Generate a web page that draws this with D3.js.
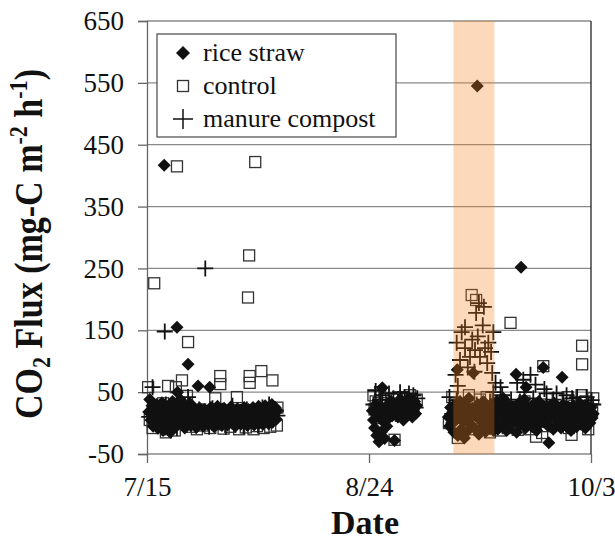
<html lang='eng'>
    <head>
        <script src="https://d3js.org/d3.v7.min.js" charset="utf-8"></script>
        <style>
          body { margin: 0; background: white; }
        </style>
    </head>
    <body>
        <script>
            // data: [days since 7/15, CO2 flux]
            var riceStraw = [
              [0.3,18],[0.5,38],[0.7,5],[0.9,28],[1.1,-5],[1.3,22],[1.5,10],[1.7,30],[1.9,-8],[2.1,15],
              [2.3,25],[2.5,2],[2.7,33],[2.9,-12],[3.1,417],[3.2,12],[3.4,20],[3.6,-3],[3.8,26],[4.0,8],
              [4.2,-15],[4.4,18],[4.6,35],[4.8,5],[5.0,22],[5.2,-6],[5.4,155],[5.5,50],[5.6,28],[5.8,12],
              [6.0,38],[6.2,0],[6.4,18],[6.6,30],[6.8,-8],[7.0,14],[7.2,24],[7.4,95],[7.5,6],[7.7,32],
              [7.9,-4],[8.1,17],[8.3,26],[8.5,3],[8.7,20],[8.9,-7],[9.2,60],[9.3,12],[9.5,24],[9.7,2],
              [9.9,15],[10.1,-5],[10.3,22],[10.5,8],[10.7,18],[10.9,-2],[11.3,58],[11.2,14],[11.5,25],[11.7,4],
              [11.9,16],[12.1,-6],[12.3,20],[12.5,9],[12.7,27],[12.9,0],[13.1,14],[13.3,22],[13.5,-4],[13.7,11],
              [13.9,24],[14.1,5],[14.3,17],[14.5,-3],[14.7,21],[14.9,8],[15.1,26],[15.3,0],[15.5,13],[15.7,19],
              [15.9,-5],[16.1,10],[16.3,23],[16.5,4],[16.7,15],[16.9,-2],[17.1,20],[17.3,8],[17.5,25],[17.7,1],
              [17.9,14],[18.1,-4],[18.3,22],[18.5,10],[18.7,17],[18.9,3],[19.1,25],[19.3,-3],[19.5,12],[19.7,20],
              [19.9,6],[20.1,27],[20.3,0],[20.5,15],[20.7,22],[20.9,-2],[21.1,10],[21.3,28],[21.5,5],[21.7,18],
              [21.9,-1],[22.1,24],[22.3,9],[22.5,30],[22.7,2],[22.9,16],[23.1,25],[23.3,6],[23.5,20],
              // 8/25 - 9/1
              [40.6,20],[40.8,5],[41.0,-8],[41.2,30],[41.4,-20],[41.6,12],[41.8,-30],[42.0,25],[42.2,-15],[42.4,57],
              [42.6,2],[42.8,-25],[43.0,15],[43.2,-5],[43.4,30],[43.6,8],[43.8,20],[44.0,35],[44.2,12],[44.4,25],
              [44.6,-28],[44.8,18],[45.0,30],[45.2,10],[45.4,22],[45.6,38],[45.8,15],[46.0,28],[46.2,5],[46.4,20],
              [46.6,35],[46.8,12],[47.0,25],[47.2,40],[47.4,18],[47.6,30],[47.8,10],[48.0,22],[48.2,35],[48.4,15],[48.6,28],
              // 9/7 - 10/3
              [54.3,10],[54.5,-5],[54.7,25],[54.9,0],[55.1,18],[55.3,-15],[55.5,30],[55.7,5],[55.9,86],[56.0,-20],
              [56.2,14],[56.4,35],[56.6,-10],[56.8,22],[57.0,2],[57.2,-24],[57.4,28],[57.6,8],[57.8,-12],[58.0,40],
              [58.2,16],[58.4,-3],[58.6,24],[58.8,81],[59.0,-8],[59.2,12],[59.5,545],[59.6,30],[59.8,-18],[60.0,5],
              [60.2,20],[60.4,-6],[60.6,35],[60.8,10],[61.0,-14],[61.2,25],[61.4,0],[61.6,15],[61.8,-9],[62.0,30],
              [62.2,8],[62.4,-12],[62.6,20],[62.8,2],[63.0,35],[63.2,-10],[63.4,15],[63.6,28],[63.8,-5],[64.0,12],
              [64.2,40],[64.4,0],[64.6,22],[64.8,-12],[65.0,30],[65.2,8],[65.4,18],[65.6,-3],[66.5,79],[66.0,25],
              [66.2,5],[68.3,58],[66.6,-15],[66.8,14],[67.0,32],[67.4,252],[67.2,-2],[67.6,20],[67.8,10],[68.0,38],
              [68.2,-8],[68.4,15],[68.6,26],[68.8,2],[71.4,90],[69.2,18],[69.4,-6],[69.6,30],[69.8,8],[70.0,22],
              [70.2,-12],[70.4,12],[70.6,35],[70.8,0],[71.0,18],[72.4,-32],[71.6,26],[71.8,5],[72.0,15],[74.8,74],
              [72.2,-4],[72.6,28],[72.8,10],[73.0,20],[73.2,-10],[73.4,32],[73.6,6],[73.8,16],[74.0,-2],[74.2,24],
              [74.4,12],[74.6,-8],[75.0,30],[75.2,4],[75.4,18],[75.6,-5],[75.8,26],[76.0,10],[76.2,20],[76.4,-12],
              [76.6,14],[76.8,28],[77.0,2],[77.2,18],[77.4,-6],[77.6,24],[77.8,8],[78.0,32],[78.2,-2],[78.4,16],
              [78.6,22],[78.8,5],[79.0,-8],[79.2,28],[79.4,12],[79.6,20],[79.8,0],[80.0,25],[80.2,8],[80.4,15]
            ]

            var control = [
              [1.3,226],[5.4,415],[19.5,422],[18.4,271],[18.2,203],[7.4,131],[0.2,58],[3.8,60],[5.2,58],[6.3,69],
              [13.2,76],[13.2,63],[18.5,76],[18.5,65],[20.6,84],[22.6,69],[12.3,40],[16.2,42],[2.9,32],[7.2,44],
              [3.4,-15],[0.5,5],[1.0,-8],[1.6,15],[2.2,-2],[2.8,20],[3.6,-10],[4.4,8],[5.0,-12],[5.8,18],
              [6.6,0],[7.8,-6],[8.4,12],[9.0,-10],[9.6,22],[10.2,-4],[10.8,10],[11.4,-8],[12.0,16],[12.6,-2],
              [13.8,-9],[14.4,8],[15.0,-6],[15.6,20],[16.6,-10],[17.2,4],[17.8,-7],[18.8,12],[19.2,-10],[19.8,-5],
              [20.4,15],[21.0,-8],[21.6,6],[22.2,-6],[22.8,18],[23.4,-4],[23.5,25],
              [40.8,45],[41.0,22],[41.2,35],[41.6,8],[42.0,50],[42.4,15],[43.0,40],[43.4,28],[44.0,20],[44.6,-27],
              [45.0,38],[45.6,25],[46.2,42],[46.8,30],[47.4,45],[48.0,20],[48.6,38],
              [58.5,207],[59.3,199],[55.0,42],[56.0,-24],[54.4,0],[55.5,30],[57.0,20],[58.0,45],[59.0,-10],[60.0,38],
              [60.5,15],[61.2,42],[62.0,5],[61.8,-15],[57.6,-5],[65.5,162],[78.4,125],[78.4,95],[71.4,92],[75.8,42],
              [78.3,45],[70.1,-22],[71.2,-16],[76.5,-19],[66.8,-11],[63.0,10],[64.0,30],[65.0,-8],[66.0,25],[67.0,5],
              [68.0,35],[69.0,-10],[70.0,18],[71.0,30],[72.0,-5],[73.0,22],[74.0,40],[75.0,10],[76.0,-8],[77.0,28],
              [78.0,0],[79.0,35],[79.5,-10],[80.2,20],[80.4,40],[62.8,30],[63.6,-12]
            ]

            var manureCompost = [
              [1.0,58],[3.2,148],[10.5,250],
              [0.4,10],[1.4,25],[2.0,-5],[2.6,15],[3.4,30],[4.0,2],[4.6,20],[5.4,-8],[6.0,12],[6.8,28],
              [7.4,42],[7.6,5],[8.2,18],[8.8,-4],[9.4,22],[10.0,8],[10.6,15],[11.2,-6],[11.8,24],[12.4,10],
              [13.0,2],[13.6,20],[14.2,-6],[14.8,14],[15.4,28],[16.0,4],[16.8,18],[17.4,-5],[18.0,22],[18.6,8],
              [19.4,16],[20.0,-3],[20.8,25],[21.4,10],[22.0,30],[22.6,4],[23.2,20],[23.5,12],
              [40.8,30],[41.2,52],[41.6,20],[42.0,38],[42.4,45],[42.8,10],[43.2,30],[43.6,48],[44.0,25],[44.4,40],
              [44.8,15],[45.2,35],[45.6,50],[46.0,28],[46.4,42],[46.8,20],[47.2,48],[47.6,32],[48.0,45],[48.4,25],[48.7,40],
              [59.8,194],[60.7,188],[59.3,178],[60.5,158],[57.3,155],[56.7,147],[62.4,147],[55.8,130],[57.3,121],[59.1,118],
              [60.9,121],[62.0,115],[58.2,107],[60.0,107],[56.4,102],[61.3,97],[55.6,78],[62.2,81],[59.0,83],[54.5,42],
              [55.8,37],[56.0,60],[57.8,90],[58.6,135],[59.6,140],[61.5,130],[55.0,15],[56.6,25],[58.0,5],[59.4,30],
              [60.6,12],[61.8,35],[62.4,50],
              [62.8,65],[63.7,58],[66.7,65],[69.1,78],[72.0,48],[73.8,48],[75.6,45],[77.5,42],[79.2,42],[80.1,37],
              [63.2,30],[64.0,45],[64.8,20],[65.6,38],[66.2,10],[67.2,35],[68.0,50],[68.6,22],[69.6,40],[70.2,15],
              [70.8,35],[71.6,55],[72.6,25],[73.2,38],[74.4,18],[75.0,32],[76.0,20],[76.6,40],[77.0,12],[78.0,30],
              [78.6,20],[79.6,28],[80.4,30],[67.8,70],[70.0,62]
            ]

            var yTicks = [-50, 50, 150, 250, 350, 450, 550, 650]
            var xTicks = [0, 40, 80]
            var xTickLabels = ["7/15", "8/24", "10/3"]
            var bandDays = [55.2, 62.6]
            var seriesNames = ["rice straw", "control", "manure compost"]

            var width = 615
            var height = 541
            var serif = "'Liberation Serif', 'Times New Roman', Times, serif"

            var svg = d3.select("body")
                        .append("svg")
                        .attr("width", width)
                        .attr("height", height)
                        .attr("font-family", serif)

            var x = d3.scaleLinear().domain([0, 80]).range([147, 591])
            var y = d3.scaleLinear().domain([-50, 650]).range([454, 21])

            // gridlines
            svg.selectAll(".grid")
               .data(yTicks)
               .enter().append("line")
               .attr("x1", x(0)).attr("x2", x(80))
               .attr("y1", function(d) { return y(d) })
               .attr("y2", function(d) { return y(d) })
               .attr("stroke", "#8a8a8a")
               .attr("stroke-width", 1.3)

            // y axis
            var yAxis = d3.axisLeft(y).tickValues(yTicks).tickSize(9).tickPadding(14)
              .tickFormat(function(d) { return String(d) })
            var gy = svg.append("g").attr("transform", "translate(" + x(0) + ",0)").call(yAxis)
            gy.attr("font-family", serif).attr("font-size", 27)
            gy.select(".domain").attr("stroke", "#666").attr("stroke-width", 1.3)
            gy.selectAll(".tick line").attr("stroke", "#666").attr("stroke-width", 1.3)
            gy.selectAll(".tick text").attr("fill", "#111")

            // x axis
            var xAxis = d3.axisBottom(x).tickValues(xTicks).tickSize(9).tickPadding(14)
              .tickFormat(function(d, i) { return xTickLabels[i] })
            var gx = svg.append("g").attr("transform", "translate(0," + y(-50) + ")").call(xAxis)
            gx.attr("font-family", serif).attr("font-size", 27)
            gx.select(".domain").remove()
            gx.selectAll(".tick line").attr("stroke", "#666").attr("stroke-width", 1.3)
            gx.selectAll(".tick text").attr("fill", "#111")

            // right border
            svg.append("line")
               .attr("x1", x(80)).attr("x2", x(80))
               .attr("y1", y(650)).attr("y2", y(-50))
               .attr("stroke", "#222").attr("stroke-width", 1.3)

            var diamond = "M0,-6.5L6.5,0L0,6.5L-6.5,0Z"
            var plus = "M-8,0H8M0,-8V8"

            var plot = svg.append("g")

            plot.selectAll(".ctrl")
                .data(control)
                .enter().append("rect")
                .attr("x", function(d) { return x(d[0]) - 5.5 })
                .attr("y", function(d) { return y(d[1]) - 5.5 })
                .attr("width", 11).attr("height", 11)
                .attr("fill", "none")
                .attr("stroke", "#333")
                .attr("stroke-width", 1.3)

            plot.selectAll(".rice")
                .data(riceStraw)
                .enter().append("path")
                .attr("d", diamond)
                .attr("transform", function(d) { return "translate(" + x(d[0]) + "," + y(d[1]) + ")" })
                .attr("fill", "#111")

            plot.selectAll(".manure")
                .data(manureCompost)
                .enter().append("path")
                .attr("d", plus)
                .attr("transform", function(d) { return "translate(" + x(d[0]) + "," + y(d[1]) + ")" })
                .attr("stroke", "#111")
                .attr("stroke-width", 1.8)

            // shaded period, drawn over the points
            svg.append("rect")
               .attr("x", x(bandDays[0]))
               .attr("width", x(bandDays[1]) - x(bandDays[0]))
               .attr("y", y(650))
               .attr("height", y(-50) - y(650))
               .attr("fill", "rgb(241,128,28)")
               .attr("opacity", 0.3)

            // legend
            var legend = svg.append("g")
            legend.append("rect")
                  .attr("x", 157).attr("y", 34)
                  .attr("width", 239).attr("height", 103)
                  .attr("fill", "white")
                  .attr("stroke", "#555")
                  .attr("stroke-width", 1.3)

            var rows = legend.selectAll(".row")
                  .data(seriesNames)
                  .enter().append("g")
                  .attr("transform", function(d, i) { return "translate(183," + (53 + i * 33) + ")" })

            rows.append("text")
                .attr("x", 20)
                .attr("y", 8)
                .attr("font-family", serif)
                .attr("font-size", 26)
                .attr("fill", "#111")
                .text(function(d) { return d })

            rows.filter(function(d, i) { return i == 0 })
                .append("path").attr("d", "M0,-7L7,0L0,7L-7,0Z").attr("fill", "#111")
            rows.filter(function(d, i) { return i == 1 })
                .append("rect").attr("x", -5.5).attr("y", -5.5).attr("width", 11).attr("height", 11)
                .attr("fill", "none").attr("stroke", "#333").attr("stroke-width", 1.3)
            rows.filter(function(d, i) { return i == 2 })
                .append("path").attr("d", "M-10,0H10M0,-10V10").attr("stroke", "#111").attr("stroke-width", 1.5)

            // axis titles
            svg.append("text")
               .attr("text-anchor", "middle")
               .attr("font-size", 34)
               .attr("font-weight", "bold")
               .attr("fill", "#111")
               .attr("x", 365)
               .attr("y", 534)
               .text("Date")

            var yt = svg.append("text")
               .attr("text-anchor", "middle")
               .attr("font-size", 40)
               .attr("font-weight", "bold")
               .attr("fill", "#111")
               .attr("transform", "translate(42,244) rotate(-90) scale(0.85,1)")
            yt.append("tspan").text("CO")
            yt.append("tspan").attr("font-size", 26).attr("dy", 8).text("2")
            yt.append("tspan").attr("dy", -8).text(" Flux (mg-C m")
            yt.append("tspan").attr("font-size", 26).attr("dy", -15).text("-2")
            yt.append("tspan").attr("dy", 15).text(" h")
            yt.append("tspan").attr("font-size", 26).attr("dy", -15).text("-1")
            yt.append("tspan").attr("dy", 15).text(")")
        </script>
    </body>
</html>
